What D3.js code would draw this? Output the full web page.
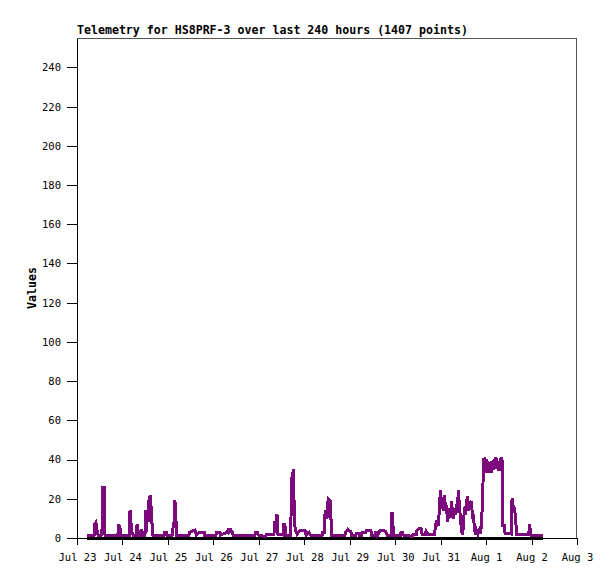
<!DOCTYPE html>
<html lang="en">
  <head>
    <meta charset="UTF-8">
    <title>Telemetry for HS8PRF-3</title>
    <style>
      html,body{
        background-color: #fff;
        margin: 0;
        padding: 0;
      }
      svg text{
        font-family: "DejaVu Sans Mono", "Liberation Mono", monospace;
        fill: #000;
      }
    </style>
  </head>
  <body>
    <div id="chart"></div>
    <script src="https://d3js.org/d3.v7.min.js"></script>
    <script>
      // Data: hours after Jul 23 00:00 and the value at that hour
      var title = "Telemetry for HS8PRF-3 over last 240 hours (1407 points)";
      var yLabel = "Values";
      var yTicks = [0, 20, 40, 60, 80, 100, 120, 140, 160, 180, 200, 220, 240];
      var xTickLabels = ["Jul 23","Jul 24","Jul 25","Jul 26","Jul 27","Jul 28","Jul 29","Jul 30","Jul 31","Aug 1","Aug 2","Aug 3"];

      var hours = [
        5.4, 9.0, 9.2, 10.0, 10.6, 11.1, 12.7, 12.9, 13.5, 13.7, 14.3, 14.5, 14.8,
        21.6, 21.9, 22.7, 23.0, 27.7, 28.0, 28.5, 29.0, 29.6, 31.5, 31.7, 32.2, 32.5,
        33.6, 33.8, 34.3, 34.5, 35.9, 36.2, 36.7, 37.0, 37.8, 38.0, 38.8, 39.3, 39.9, 40.1,
        45.9, 46.2, 47.3, 47.5, 50.2, 50.4, 50.9, 51.5, 51.7, 52.3, 52.5,
        59.1, 59.4, 62.3, 63.1, 64.4, 67.1, 67.3, 73.4, 73.7, 75.5, 75.8,
        79.5, 80.0, 80.5, 81.3, 82.1, 82.4, 94.0, 94.2, 95.3, 95.6, 98.2, 99.8, 100.0,
        104.0, 104.3, 105.1, 105.6, 106.1, 108.8, 109.0, 109.8, 110.0,
        112.7, 113.0, 113.5, 114.3, 114.8, 115.4, 116.2, 117.7, 120.4, 120.9,
        122.5, 123.3, 129.4, 129.7, 130.7, 131.0, 132.0, 132.6, 133.6, 134.2, 134.6,
        141.5, 141.8, 143.1, 144.7, 145.0, 147.3, 147.6, 148.9, 149.2, 150.2, 150.5,
        152.6, 152.9, 155.2, 155.5, 157.3, 157.6, 158.4, 158.7, 160.0, 162.1, 163.2, 163.7,
        166.0, 166.3, 166.8, 167.1, 170.8, 171.1, 171.9, 172.2, 175.8, 177.1, 177.4,
        179.2, 179.5, 180.8, 181.6, 182.2, 184.0, 184.3, 185.3, 188.8, 189.0, 189.8,
        190.6, 191.1, 191.9, 192.5, 193.0, 193.5, 194.0, 194.6, 195.1, 195.6, 196.1,
        196.7, 197.2, 197.7, 198.2, 198.8, 199.3, 199.8, 200.4, 200.9, 201.3, 202.0,
        202.5, 203.0, 203.6, 204.1, 204.6, 205.2, 205.7, 206.2, 206.7, 207.2, 207.8,
        208.3, 208.8, 209.3, 209.8, 210.4, 210.9, 211.7, 212.5, 213.0, 213.6, 214.1,
        214.5, 214.9, 215.4, 216.0, 216.5, 217.0, 217.5, 218.1, 218.6, 219.1, 219.6,
        220.2, 220.7, 221.2, 221.7, 222.3, 222.8, 223.3, 223.9, 224.4, 224.6, 224.9,
        225.7, 226.0, 229.4, 229.7, 230.5, 231.0, 231.6, 232.1, 238.4, 238.7, 239.0,
        239.4, 239.7, 245.9
      ];
      var values = [
        1.5, 1.5, 7, 8, 4, 1.5, 1.5, 4, 5, 26, 26, 9, 1.5,
        1.5, 7, 5, 1.5, 1.5, 14, 8, 3, 1.5, 1.5, 7, 4, 1.5,
        1.5, 4, 4, 1.5, 1.5, 14, 3, 9, 9, 19, 22, 12, 3, 1.5,
        1.5, 3, 3, 1.5, 1.5, 4, 6, 10, 19.5, 8, 1.5,
        1.5, 3, 4, 1.5, 3, 3, 1.5, 1.5, 3, 3, 1.5,
        3, 5, 3, 4, 3, 1.5, 1.5, 3, 3, 1.5, 1, 1, 2,
        2, 8, 8, 12, 2, 1.5, 7, 7, 1.5,
        1.5, 11, 31, 35, 7.5, 4, 2, 4, 4, 1.5,
        3, 1.5, 1.5, 3, 3, 14, 10, 20, 19, 8, 1.5,
        1.5, 3, 4.5, 3, 1.5, 1.5, 2.5, 2.5, 1.5, 1.5, 3,
        3, 4, 4, 1.5, 1.5, 3, 3, 1.5, 4, 4, 3, 1.5,
        1.5, 13.4, 7.5, 1.5, 1.5, 3, 3, 1.5, 1, 1, 2,
        2, 4, 5, 5, 2, 2, 3.5, 2, 2, 4, 9,
        6, 11, 24.5, 15, 21, 14, 22, 15, 17, 8, 12,
        15, 10, 19, 14, 10, 15, 12, 17, 13, 24.5, 16,
        9, 4, 1.5, 8, 16, 12, 18, 21.4, 14, 19, 16,
        19, 10, 12, 5, 1.5, 4, 2, 4, 2, 6.6, 20,
        32, 41, 36, 40, 33, 39, 34, 37, 33, 39, 36,
        40, 35, 41, 37, 39, 34, 38, 41, 38, 40, 6.6,
        6.6, 2.5, 2, 20.4, 15, 15, 10, 2, 2, 4, 7,
        3, 1.5, 1.5
      ];

      var chart = {
        width: 615,
        height: 579,
        margin: {top: 38, right: 38, bottom: 41, left: 77},
        init: function(){
          var self = this;
          var w = self.width - self.margin.left - self.margin.right;
          var h = self.height - self.margin.top - self.margin.bottom;
          var start = new Date(Date.UTC(2025, 6, 23));
          var end = new Date(Date.UTC(2025, 7, 3));

          var svg = d3.select("#chart").append("svg")
            .attr("width", self.width)
            .attr("height", self.height);

          var g = svg.append("g")
            .attr("transform", "translate(" + self.margin.left + "," + self.margin.top + ")");

          var x = d3.scaleUtc().domain([start, end]).range([0, w]);
          var y = d3.scaleLinear().domain([0, 255]).range([h, 0]);

          var points = hours.map(function(hr, i){
            return {t: d3.utcMinute.offset(start, Math.round(hr * 60)), v: values[i]};
          });

          // frame top and right
          g.append("path")
            .attr("d", "M0,0.5H" + (w - 0.5) + "V" + h)
            .attr("fill", "none")
            .attr("stroke", "#555")
            .attr("shape-rendering", "crispEdges");

          var line = d3.line()
            .x(function(d){ return x(d.t); })
            .y(function(d){ return y(d.v); });

          // zero series (black)
          g.append("path")
            .datum(points.map(function(d){ return {t: d.t, v: 0}; }))
            .attr("d", line)
            .attr("fill", "none")
            .attr("stroke", "#000")
            .attr("stroke-width", 3)
            .attr("shape-rendering", "crispEdges");

          g.append("path")
            .datum(points)
            .attr("d", line)
            .attr("fill", "none")
            .attr("stroke", "#7d0a7d")
            .attr("stroke-width", 3)
            .attr("stroke-linejoin", "miter")
            .attr("shape-rendering", "crispEdges");

          var yAxis = d3.axisLeft(y)
            .tickValues(yTicks)
            .tickSize(10)
            .tickPadding(6)
            .tickSizeOuter(0);
          var ya = g.append("g").call(yAxis);
          ya.selectAll("text").style("font-size", "10.5px");

          var dayTicks = d3.utcDay.range(start, d3.utcDay.offset(end, 1));
          var xAxis = d3.axisBottom(x)
            .tickValues(dayTicks)
            .tickFormat(function(d, i){ return xTickLabels[i]; })
            .tickSize(7)
            .tickPadding(9)
            .tickSizeOuter(0);
          var xa = g.append("g")
            .attr("transform", "translate(0," + h + ")")
            .call(xAxis);
          xa.selectAll("text").style("font-size", "10.5px");

          svg.selectAll(".domain, .tick line")
            .attr("stroke", "#000")
            .attr("shape-rendering", "crispEdges");

          svg.append("text")
            .attr("x", self.margin.left)
            .attr("y", 34)
            .style("font-size", "11.6px")
            .style("font-weight", "bold")
            .text(title);

          svg.append("text")
            .attr("transform", "translate(36," + (self.margin.top + h / 2) + ") rotate(-90)")
            .attr("text-anchor", "middle")
            .style("font-size", "11.6px")
            .style("font-weight", "bold")
            .text(yLabel);
        }
      };
      chart.init();
    </script>
  </body>
</html>
